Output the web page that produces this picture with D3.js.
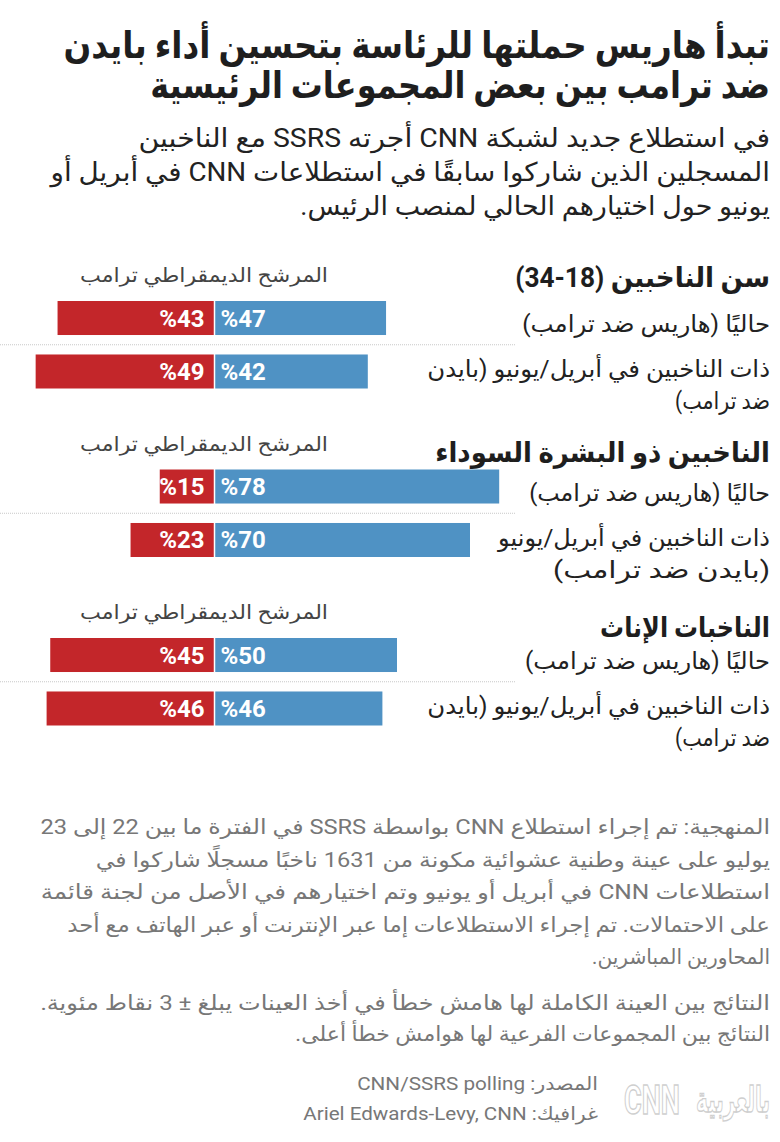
<!DOCTYPE html>
<html><head><meta charset="utf-8">
<script src="https://cdn.jsdelivr.net/npm/d3@7"></script>
<style>
html,body{margin:0;padding:0;background:#fff;}
svg{display:block;}
text{font-family:Roboto,"DejaVu Sans",sans-serif;}
</style></head>
<body>
<svg id="chart" width="780" height="1142"></svg>
<script>
// ---------- data ----------
const titleLines = ["تبدأ هاريس حملتها للرئاسة بتحسين أداء بايدن", "ضد ترامب بين بعض المجموعات الرئيسية"];
const subtitleLines = ["في استطلاع جديد لشبكة CNN أجرته SSRS مع الناخبين", "المسجلين الذين شاركوا سابقًا في استطلاعات CNN في أبريل أو", "يونيو حول اختيارهم الحالي لمنصب الرئيس."];
const groups = ["سن الناخبين (18-34)", "الناخبين ذو البشرة السوداء", "الناخبات الإناث"];
const columnHeader = "المرشح الديمقراطي ترامب";
const rowLabelsNow = ["حاليًا (هاريس ضد ترامب)", "حاليًا (هاريس ضد ترامب)", "حاليًا (هاريس ضد ترامب)"];
const rowLabelsBefore = [
  ["ذات الناخبين في أبريل/يونيو (بايدن", "ضد ترامب)"],
  ["ذات الناخبين في أبريل/يونيو", "(بايدن ضد ترامب)"],
  ["ذات الناخبين في أبريل/يونيو (بايدن", "ضد ترامب)"]
];
const demValues = [[47, 42], [78, 70], [50, 46]];
const repValues = [[43, 49], [15, 23], [45, 46]];
const methodologyLines = [
  "المنهجية: تم إجراء استطلاع CNN بواسطة SSRS في الفترة ما بين 22 إلى 23",
  "يوليو على عينة وطنية عشوائية مكونة من 1631 ناخبًا مسجلًا شاركوا في",
  "استطلاعات CNN في أبريل أو يونيو وتم اختيارهم في الأصل من لجنة قائمة",
  "على الاحتمالات. تم إجراء الاستطلاعات إما عبر الإنترنت أو عبر الهاتف مع أحد",
  "المحاورين المباشرين."
];
const noteLines = [
  "النتائج بين العينة الكاملة لها هامش خطأ في أخذ العينات يبلغ ± 3 نقاط مئوية.",
  "النتائج بين المجموعات الفرعية لها هوامش خطأ أعلى."
];
const sourceLines = ["المصدر: CNN/SSRS polling", "غرافيك: Ariel Edwards-Levy, CNN"];

// ---------- layout ----------
const svg = d3.select("#chart");
const R = 770;
const blue = "#4f92c4", red = "#c3262a";

// right-aligned RTL text, horizontally scaled to span the given width
function rtlText(txt, x, y, size, weight, fill, width) {
  const t = svg.append("text")
    .attr("x", 0).attr("y", 0)
    .attr("direction", "rtl")
    .attr("text-anchor", "start")
    .attr("font-size", size)
    .attr("font-weight", weight)
    .attr("fill", fill)
    .text(txt);
  let s = 1;
  if (width) {
    const n = t.node().getComputedTextLength();
    if (n > 0) s = width / n;
  }
  t.attr("transform", `translate(${x},${y}) scale(${s},1)`);
  return t;
}

// title
const titleW = [707, 620];
titleLines.forEach((l, i) => rtlText(l, R, 58 + i * 40, 37, 700, "#1e1e1e", titleW[i]));
// subtitle
const subW = [632, 720, 470];
subtitleLines.forEach((l, i) => rtlText(l, R, 147 + i * 34, 26, 400, "#222", subW[i]));

// scales
const cx = 214.5;
const xDem = d3.scaleLinear().domain([0, 100]).range([cx, cx + 365]);
const xRep = d3.scaleLinear().domain([0, 100]).range([cx, cx - 365]);
const yGroup = d3.scaleLinear().domain([0, 2]).range([301, 638]);
const yRow = d3.scaleBand().domain([0, 1]).range([0, 87.5]).paddingInner(0.364);

const headingDy = [-14, -8, -1];
const headingW = [255, 335, 170];
const label1W = [248, 241, 245];
const label2W = [[343, 95], [272, 217], [343, 95]];

groups.forEach((g, gi) => {
  const gt = yGroup(gi);
  // column header (right edge at 328)
  rtlText(columnHeader, 328, gt - 19, 20, 400, "#444", 248);
  // group heading
  rtlText(g, R, gt + headingDy[gi], 28, 700, "#1e1e1e", headingW[gi]);
  // separator
  const sepY = gt + yRow(0) + yRow.bandwidth() + (yRow.step() - yRow.bandwidth()) / 2;
  svg.append("line").attr("x1", 0).attr("x2", 515).attr("y1", sepY).attr("y2", sepY)
    .attr("stroke", "#c8c8c8").attr("stroke-width", 1).attr("stroke-dasharray", "1,1");
  // row labels
  rtlText(rowLabelsNow[gi], R, gt + 31, 23.5, 400, "#222", label1W[gi]);
  rowLabelsBefore[gi].forEach((l, li) =>
    rtlText(l, R, gt + yRow(1) + 23 + li * 32, 23.5, 400, "#222", label2W[gi][li]));

  [0, 1].forEach(ri => {
    const y0 = gt + yRow(ri), h = yRow.bandwidth();
    const d = demValues[gi][ri], r = repValues[gi][ri];
    svg.append("rect").attr("x", xDem(0) + 0.75).attr("y", y0)
      .attr("width", xDem(d) - xDem(0) - 0.75).attr("height", h).attr("fill", blue);
    svg.append("rect").attr("x", xRep(r)).attr("y", y0)
      .attr("width", xRep(0) - xRep(r) - 0.75).attr("height", h).attr("fill", red);
    svg.append("text").attr("x", xDem(0) + 6).attr("y", y0 + h / 2 + 8.5)
      .attr("font-size", 24).attr("font-weight", 700).attr("fill", "#fff")
      .attr("text-anchor", "start").text("%" + d);
    svg.append("text").attr("x", xRep(0) - 10).attr("y", y0 + h / 2 + 8.5)
      .attr("font-size", 24).attr("font-weight", 700).attr("fill", "#fff")
      .attr("text-anchor", "end").text("%" + r);
  });
});

// methodology
const methW = [730, 675, 730, 703, 178];
methodologyLines.forEach((l, i) => rtlText(l, R, 834 + i * 32.5, 20.5, 400, "#777", methW[i]));
const noteW = [730, 475];
noteLines.forEach((l, i) => rtlText(l, R, 1010 + i * 31, 20.5, 400, "#777", noteW[i]));
const srcW = [241, 295];
sourceLines.forEach((l, i) => rtlText(l, 598, 1090 + i * 30, 18, 400, "#777", srcW[i]));

// logo
const cnn = svg.append("text").attr("x", 0).attr("y", 0).attr("font-size", 40).attr("font-weight", 700)
  .attr("fill", "#fff").attr("stroke", "#cfcfcf").attr("stroke-width", 1.4).text("CNN");
const cw = cnn.node().getComputedTextLength();
cnn.attr("transform", `translate(624,1114) scale(${56 / cw},1)`);
rtlText("بالعربية", 770, 1112, 36, 700, "#fff", 74).attr("stroke", "#cfcfcf").attr("stroke-width", 1.4);
</script>
</body></html>
